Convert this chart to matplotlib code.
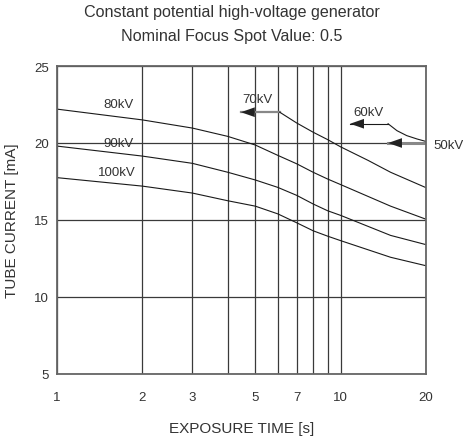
import matplotlib
matplotlib.use("Agg")
import matplotlib.pyplot as plt

plt.rcParams['font.family'] = ['Liberation Sans', 'DejaVu Sans']

# Data (exposure time [s], tube current [mA])
t_main = [1, 2, 3, 4, 5, 6, 7, 8, 9, 10, 15, 20]
i_80kv = [22.2, 21.5, 20.97, 20.43, 19.87, 19.2, 18.65, 18.1, 17.66, 17.3, 15.9, 15.05]
i_90kv = [19.8, 19.15, 18.68, 18.1, 17.6, 17.12, 16.6, 16.04, 15.6, 15.3, 14.0, 13.4]
i_100kv = [17.75, 17.2, 16.75, 16.25, 15.9, 15.4, 14.82, 14.3, 13.95, 13.66, 12.58, 12.03]

t_70kv = [4.45, 6.1, 7, 8, 9, 10, 12.5, 15, 20]
i_70kv = [22.0, 22.0, 21.3, 20.7, 20.22, 19.75, 18.87, 18.1, 17.1]

t_60kv = [10.8, 14.7, 15.8, 17.1, 18.6, 20]
i_60kv = [21.25, 21.25, 20.8, 20.48, 20.26, 20.1]

t_50kv = [14.7, 20]
i_50kv = [20.0, 20.0]

x_ticks = [1, 2, 3, 5, 7, 10, 20]
x_minor = [4, 6, 8, 9]
y_ticks = [5, 10, 15, 20, 25]

txt = '#333333'
fig = plt.figure(figsize=(4.63, 4.39), dpi=100)
ax = fig.add_axes([57/463, 1-375/439, (426-57)/463, (375-67)/439])
ax.set_xscale('log')
ax.set_xlim(1, 20)
ax.set_ylim(5, 25)
ax.set_xticks(x_ticks)
ax.set_xticklabels([str(v) for v in x_ticks])
ax.set_xticks(x_minor, minor=True)
ax.set_xticklabels([], minor=True)
ax.set_yticks(y_ticks)
ax.tick_params(axis='both', which='both', length=0, colors=txt, labelsize=9.5)
ax.tick_params(axis='x', pad=12)
ax.tick_params(axis='y', pad=6)
ax.grid(True, which='major', color='#3a3a3a', lw=0.9)
ax.grid(True, which='minor', axis='x', color='#3a3a3a', lw=0.9)
ax.set_axisbelow(True)
for s in ax.spines.values():
    s.set_color('#666666')
    s.set_linewidth(1.3)

lc = '#1a1a1a'
lw = 0.8
ax.plot(t_main, i_80kv, color=lc, lw=lw)
ax.plot(t_main, i_90kv, color=lc, lw=lw)
ax.plot(t_main, i_100kv, color=lc, lw=lw)
# 70kV: gray shaft then curve
ax.plot(t_70kv[:2], i_70kv[:2], color='#888888', lw=1.6)
ax.plot(t_70kv[1:], i_70kv[1:], color=lc, lw=lw)
# 60kV
ax.plot(t_60kv[:2], i_60kv[:2], color=lc, lw=lw)
ax.plot(t_60kv[1:], i_60kv[1:], color=lc, lw=lw)
# 50kV
ax.plot(t_50kv, i_50kv, color='#888888', lw=2.2)

ap = dict(arrowstyle='-|>,head_length=1.0,head_width=0.35', color='#222222', lw=0, shrinkA=0, shrinkB=0)
ax.annotate('', xy=(t_70kv[0], i_70kv[0]), xytext=(5.2, i_70kv[0]), arrowprops=ap)
ax.annotate('', xy=(t_60kv[0], i_60kv[0]), xytext=(12.3, i_60kv[0]), arrowprops=ap)
ax.annotate('', xy=(t_50kv[0], i_50kv[0]), xytext=(17.0, i_50kv[0]), arrowprops=ap)

fs = 9.5
ax.text(1.65, 22.5, '80kV', color=txt, fontsize=fs, ha='center', va='center')
ax.text(1.65, 20.0, '90kV', color=txt, fontsize=fs, ha='center', va='center')
ax.text(1.62, 18.1, '100kV', color=txt, fontsize=fs, ha='center', va='center')
ax.text(5.1, 22.85, '70kV', color=txt, fontsize=fs, ha='center', va='center')
ax.text(12.5, 22.0, '60kV', color=txt, fontsize=fs, ha='center', va='center')
ax.text(21.3, 19.9, '50kV', color=txt, fontsize=fs, ha='left', va='center', clip_on=False)

ax.set_xlabel('EXPOSURE TIME [s]', color=txt, fontsize=11, labelpad=13)
ax.set_ylabel('TUBE CURRENT [mA]', color=txt, fontsize=11, labelpad=11)

fig.text(0.5, 1-12/439, 'Constant potential high-voltage generator', color=txt,
         fontsize=11.6, ha='center', va='center')
fig.text(0.5, 1-37/439, 'Nominal Focus Spot Value: 0.5', color=txt,
         fontsize=11.6, ha='center', va='center')

fig.savefig('out.png', dpi=100)
